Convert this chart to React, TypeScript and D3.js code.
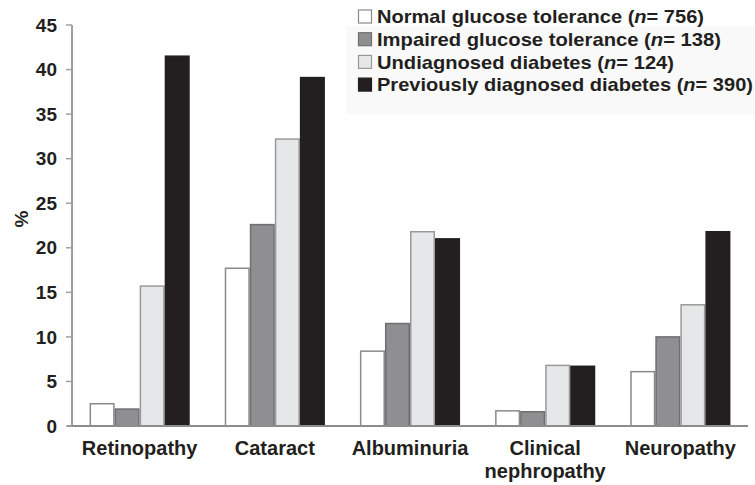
import React from "react";
import * as d3 from "d3";

const categories = ["Retinopathy", "Cataract", "Albuminuria", "Clinical nephropathy", "Neuropathy"];
const categoryLines = [["Retinopathy"], ["Cataract"], ["Albuminuria"], ["Clinical", "nephropathy"], ["Neuropathy"]];
const seriesNames = ["Normal glucose tolerance", "Impaired glucose tolerance", "Undiagnosed diabetes", "Previously diagnosed diabetes"];
const seriesN = ["756", "138", "124", "390"];
const normalGT = [2.5, 17.7, 8.4, 1.7, 6.1];
const impairedGT = [1.9, 22.6, 11.5, 1.6, 10.0];
const undiagnosed = [15.7, 32.2, 21.8, 6.8, 13.6];
const previously = [41.5, 39.1, 21.0, 6.7, 21.8];
const yTicks = [0, 5, 10, 15, 20, 25, 30, 35, 40, 45];

const fills = ["#ffffff", "#8f8f92", "#e6e7e9", "#231f20"];
const strokes = ["#8a8a8a", "#6f6f72", "#9a9a9a", "#231f20"];
const legendTextWidths = [327, 344, 297, 376];

export default function App() {
  const W = 755, H = 485;
  const series = [normalGT, impairedGT, undiagnosed, previously];
  const x0 = d3.scaleBand<string>().domain(categories).range([72, 748]).paddingInner(0.259).paddingOuter(0.13);
  const x1 = d3.scaleBand<number>().domain([0, 1, 2, 3]).range([0, x0.bandwidth()]).padding(0);
  const y = d3.scaleLinear().domain([0, 45]).range([426, 25]);
  const font = "Liberation Sans, Arial, Helvetica, sans-serif";
  return (
    <svg width={W} height={H} style={{ position: "absolute", left: 0, top: 0, background: "#fff" }}>
      <rect x={0} y={0} width={W} height={H} fill="#fff" />
      <rect x={346} y={26} width={409} height={88} fill="#f9f9f9" />
      {categories.map((c, ci) =>
        series.map((s, si) => (
          <rect
            key={c + si}
            x={(x0(c) as number) + (x1(si) as number) + 0.75}
            y={y(s[ci])}
            width={x1.bandwidth() - 1.5}
            height={y(0) - y(s[ci])}
            fill={fills[si]}
            stroke={strokes[si]}
            strokeWidth={1.5}
          />
        ))
      )}
      <line x1={72} x2={72} y1={25} y2={426} stroke="#a0a0a0" strokeWidth={2} />
      <line x1={67} x2={748} y1={426} y2={426} stroke="#8c8c8c" strokeWidth={2} />
      {yTicks.map((t) => (
        <g key={t}>
          <line x1={66} x2={72} y1={y(t)} y2={y(t)} stroke="#a0a0a0" strokeWidth={1.5} />
          <text x={57} y={y(t)} dy="0.35em" textAnchor="end" fontFamily={font} fontWeight="bold" fontSize={19} fill="#231f20">
            {t}
          </text>
        </g>
      ))}
      <text transform="translate(21,219) rotate(-90)" textAnchor="middle" dy="0.35em" fontFamily={font} fontWeight="bold" fontSize={19} fill="#231f20">
        %
      </text>
      {categories.map((c, ci) =>
        categoryLines[ci].map((ln, li) => (
          <text key={c + li} x={(x0(c) as number) + x0.bandwidth() / 2} y={455 + li * 23} textAnchor="middle" fontFamily={font} fontWeight="bold" fontSize={20} fill="#231f20">
            {ln}
          </text>
        ))
      )}
      {seriesNames.map((nm, i) => {
        const cy = 16.5 + i * 22.7;
        return (
          <g key={nm}>
            <rect x={358.5} y={cy - 6.5} width={13} height={13} fill={fills[i]} stroke={strokes[i]} strokeWidth={1.2} />
            <text x={377} y={cy} dy="0.35em" fontFamily={font} fontWeight="bold" fontSize={19} fill="#231f20" textLength={legendTextWidths[i]} lengthAdjust="spacingAndGlyphs">
              {nm} (<tspan fontStyle="italic">n</tspan>= {seriesN[i]})
            </text>
          </g>
        );
      })}
    </svg>
  );
}
